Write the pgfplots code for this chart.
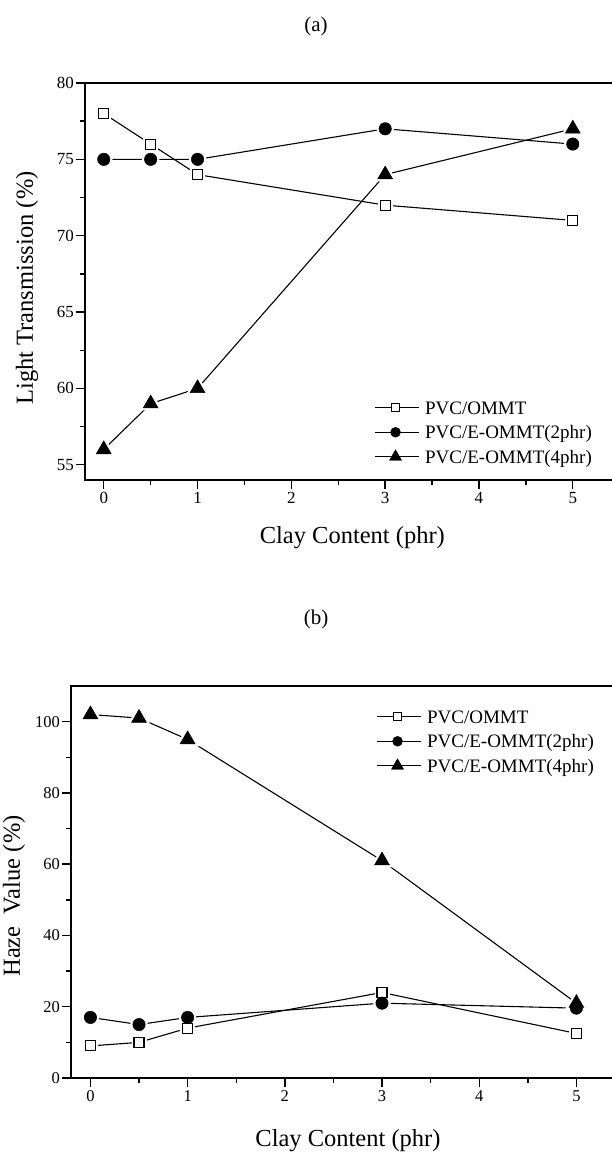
\documentclass[border=0pt]{standalone}
\usepackage{fontspec}
\setmainfont{Liberation Serif}
\usepackage{pgfplots}
\usepackage{pgfplotstable}
\pgfplotsset{compat=1.18}

\pgfplotstableread{
x om e2 e4
0 78 75 56
0.5 76 75 59
1 74 75 60
3 72 77 74
5 71 76 77
}\tableA
\pgfplotstableread{
x om e2 e4
0 9 17 102
0.5 10 15 101
1 14 17 95
3 24 21 61
5 12.5 19.6 21
}\tableB

\pgfplotsset{
 myaxis/.style={
  scale only axis,
  axis line style={line width=1.8pt},
  tick align=outside,
  xtick pos=left, ytick pos=left,
  major tick length=9pt, minor tick length=5pt,
  every tick/.style={line width=1.4pt, black},
  minor x tick num=1, minor y tick num=1,
  xtick={0,1,2,3,4,5},
  xmin=-0.2, xmax=5.5,
  /pgf/number format/assume math mode=true,
  tick label style={font=\fontsize{17}{20}\selectfont},
  yticklabel style={inner sep=2pt},
  xticklabel style={inner sep=3pt},
  xlabel={Clay Content (phr)},
  clip=false,
  legend style={draw=none, fill=none, anchor=north west, inner sep=0pt, outer sep=0pt,
    font=\fontsize{19}{22}\selectfont, row sep=5pt,
    /tikz/every even column/.append style={text height=14pt, text depth=5pt, inner sep=0pt},
    /tikz/every odd column/.append style={column sep=4pt}},
  legend cell align=left,
 },
 dline/.style={line width=1.1pt, black, mark=none, forget plot},
 halo/.style={only marks, forget plot, mark options={draw=white, fill=white, line width=5pt}},
 sq/.style={mark=square*, mark size=5pt, mark options={fill=white, draw=black, line width=1.1pt}},
 ci/.style={mark=*, mark size=6.2pt, mark options={fill=black, draw=black, line width=0.5pt}},
 tr/.style={mark=triangle*, mark size=8.6pt, mark options={fill=black, draw=black, line width=0.5pt}},
 lsq/.style={mark=square*, mark size=4.2pt, mark options={fill=white, draw=black, line width=1pt}},
 lci/.style={mark=*, mark size=5pt, mark options={fill=black, draw=black}},
 ltr/.style={mark=triangle*, mark size=7pt, mark options={fill=black, draw=black}},
 limg/.style={legend image code/.code={
    \draw[##1, mark=none, line width=1.1pt] (0pt,0pt) -- (44pt,0pt);
    \draw[##1] plot coordinates {(21pt,0pt)};}},
}

\begin{document}
\begin{tikzpicture}
\path[use as bounding box] (0pt,0pt) rectangle (612pt,-1154pt);
\clip (0pt,0pt) rectangle (612pt,-1154pt);

\node[font=\fontsize{21}{25}\selectfont] at (316pt,-26pt) {(a)};
\node[font=\fontsize{21}{25}\selectfont] at (316pt,-619pt) {(b)};

% ---------------- (a)
\begin{axis}[myaxis,
  at={(85pt,-83pt)}, anchor=north west,
  width=534.7pt, height=397pt,
  ymin=54, ymax=80, ytick={55,60,65,70,75,80},
  ylabel={Light Transmission (\%)},
  every axis y label/.style={at={(axis description cs:-0.0973,0.4836)}, rotate=90, anchor=base, font=\fontsize{24.5}{29}\selectfont},
  every axis x label/.style={at={(axis description cs:0.5,-0.1612)}, anchor=base, font=\fontsize{24.5}{29}\selectfont},
  legend style={at={(axis description cs:0.5405,0.2065)}},
]
\addplot[dline] table[x=x,y=om]{\tableA};
\addplot[dline] table[x=x,y=e2]{\tableA};
\addplot[dline] table[x=x,y=e4]{\tableA};
\addplot[halo, mark=square*, mark size=5pt] table[x=x,y=om]{\tableA};
\addplot[halo, mark=*, mark size=6.2pt] table[x=x,y=e2]{\tableA};
\addplot[halo, mark=triangle*, mark size=8.6pt] table[x=x,y=e4]{\tableA};
\addplot[only marks, sq, forget plot] table[x=x,y=om]{\tableA};
\addplot[only marks, ci, forget plot] table[x=x,y=e2]{\tableA};
\addplot[only marks, tr, forget plot] table[x=x,y=e4]{\tableA};
\addlegendimage{limg, lsq}
\addlegendentry{PVC/OMMT}
\addlegendimage{limg, lci}
\addlegendentry{PVC/E-OMMT(2phr)}
\addlegendimage{limg, ltr}
\addlegendentry{PVC/E-OMMT(4phr)}
\end{axis}

% ---------------- (b)
\begin{axis}[myaxis,
  at={(71pt,-686pt)}, anchor=north west,
  width=554pt, height=392pt,
  ymin=0, ymax=110, ytick={0,20,40,60,80,100},
  tick label style={font=\fontsize{16.5}{20}\selectfont},
  ylabel={Haze\ \ Value (\%)},
  every axis y label/.style={at={(axis description cs:-0.0921,0.4643)}, rotate=90, anchor=base, font=\fontsize{24.5}{29}\selectfont},
  every axis x label/.style={at={(axis description cs:0.5,-0.1735)}, anchor=base, font=\fontsize{24.5}{29}\selectfont},
  legend style={at={(axis description cs:0.5505,0.9464)}},
]
\addplot[dline] table[x=x,y=om]{\tableB};
\addplot[dline] table[x=x,y=e2]{\tableB};
\addplot[dline] table[x=x,y=e4]{\tableB};
\addplot[halo, mark=square*, mark size=5pt] table[x=x,y=om]{\tableB};
\addplot[halo, mark=*, mark size=6.2pt] table[x=x,y=e2]{\tableB};
\addplot[halo, mark=triangle*, mark size=8.6pt] table[x=x,y=e4]{\tableB};
\addplot[only marks, sq, forget plot] table[x=x,y=om]{\tableB};
\addplot[only marks, ci, forget plot] table[x=x,y=e2]{\tableB};
\addplot[only marks, tr, forget plot] table[x=x,y=e4]{\tableB};
\addlegendimage{limg, lsq}
\addlegendentry{PVC/OMMT}
\addlegendimage{limg, lci}
\addlegendentry{PVC/E-OMMT(2phr)}
\addlegendimage{limg, ltr}
\addlegendentry{PVC/E-OMMT(4phr)}
\end{axis}
\end{tikzpicture}
\end{document}
